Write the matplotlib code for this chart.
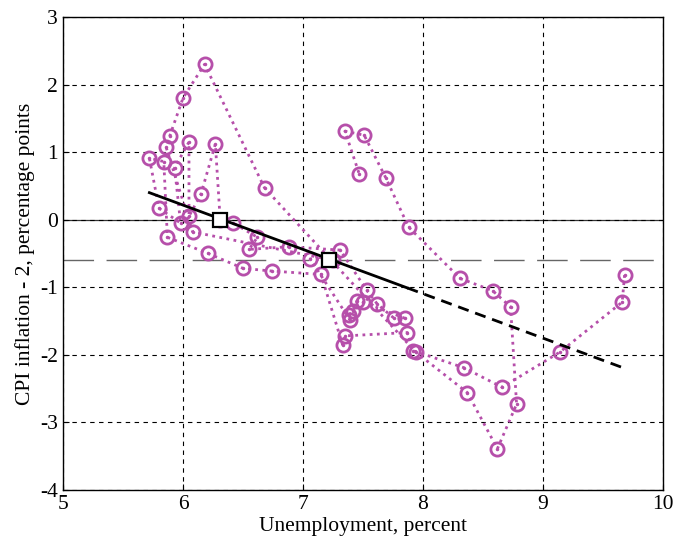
import matplotlib
matplotlib.use('Agg')
import matplotlib.pyplot as plt

plt.rcParams['font.family'] = ['Liberation Serif', 'DejaVu Serif']
plt.rcParams['axes.unicode_minus'] = False

# quarterly path, unemployment (percent) and CPI inflation - 2 (pp)
unemp = [9.68, 9.66, 9.14, 8.66, 8.34, 7.92, 7.87, 7.35, 7.33, 7.15,
         6.74, 6.50, 6.21, 5.87, 5.84, 5.72, 5.80, 5.98, 5.93, 6.05,
         6.05, 6.15, 6.27, 6.31, 6.42, 6.62, 6.55, 6.88, 7.31, 7.53,
         7.62, 7.76, 7.85, 7.50, 7.45, 7.42, 7.38, 7.39, 7.06, 7.25,
         6.08, 5.86, 5.89, 6.00, 6.18, 6.68, 7.94, 8.37, 8.62, 8.78,
         8.73, 8.58, 8.31, 7.88, 7.69, 7.51, 7.35, 7.47]
infl = [-0.82, -1.22, -1.96, -2.48, -2.19, -1.94, -1.67, -1.72, -1.85, -0.81,
        -0.76, -0.72, -0.50, -0.26, 0.86, 0.91, 0.17, -0.05, 0.77, 1.15,
        0.05, 0.38, 1.12, 0.00, -0.05, -0.26, -0.44, -0.40, -0.45, -1.04,
        -1.25, -1.46, -1.46, -1.22, -1.20, -1.35, -1.41, -1.48, -0.58, -0.60,
        -0.18, 1.07, 1.24, 1.80, 2.30, 0.47, -1.96, -2.56, -3.39, -2.73,
        -1.29, -1.05, -0.87, -0.11, 0.62, 1.25, 1.31, 0.67]

# long-run Phillips curve: solid part and dashed extrapolation
pc_x = [5.72, 7.87]
pc_y = [0.40, -1.01]
pc_ext_x = [7.87, 9.65]
pc_ext_y = [-1.01, -2.18]
sq_x = [6.31, 7.22]
sq_y = [0.0, -0.6]
avg_gap = -0.6

mag = '#B64FAA'

fig = plt.figure(figsize=(6.75, 5.44), dpi=100)
ax = fig.add_axes([0.0933, 0.0993, 0.8889, 0.8695])

ax.grid(True, color='k', linestyle=(0, (4, 4)), linewidth=0.8)
ax.axhline(0, color='#333333', linewidth=0.9, zorder=1)
ax.axhline(avg_gap, color='#666666', linewidth=1.0, linestyle=(0, (22, 9)), zorder=1)

ax.plot(unemp, infl, linestyle=(0, (1, 1.6)), linewidth=2.0, color=mag,
        marker='o', markersize=9.5, markerfacecolor='none',
        markeredgecolor=mag, markeredgewidth=2.0, zorder=2)
ax.plot(unemp, infl, linestyle='none', marker='.', markersize=3, color=mag, zorder=2)

ax.plot(pc_x, pc_y, color='k', linewidth=2.0, zorder=3)
ax.plot(pc_ext_x, pc_ext_y, color='k', linewidth=2.0, linestyle=(0, (4, 2.5)), zorder=3)
ax.plot(sq_x, sq_y, linestyle='none', marker='s', markersize=10,
        markerfacecolor='white', markeredgecolor='k', markeredgewidth=1.6, zorder=4)

ax.set_xlim(5, 10)
ax.set_ylim(-4, 3)
ax.set_xticks(range(5, 11))
ax.set_yticks(range(-4, 4))
ax.tick_params(direction='in', length=4, labelsize=15.5, colors='k')
for s in ax.spines.values():
    s.set_linewidth(1.0)

ax.set_xlabel('Unemployment, percent', fontsize=15.5, labelpad=2)
ax.set_ylabel('CPI inflation - 2, percentage points', fontsize=15.5, labelpad=4)

fig.savefig('out.png', dpi=100)
